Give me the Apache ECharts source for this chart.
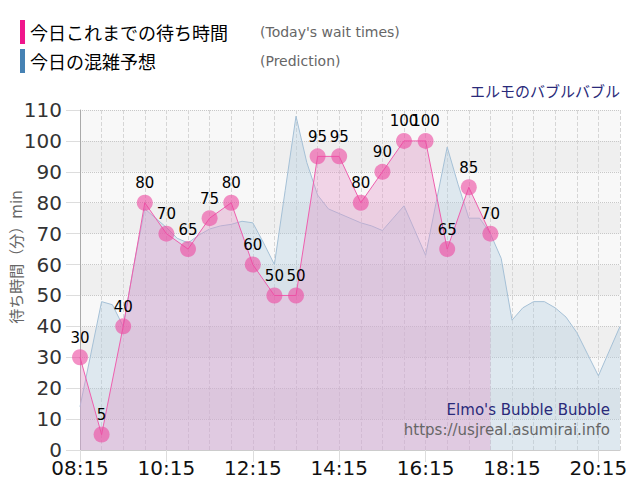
<!DOCTYPE html>
<html><head><meta charset="utf-8">
<script src="https://cdn.jsdelivr.net/npm/echarts@6/dist/echarts.min.js"></script>
<style>html,body{margin:0;padding:0;background:#fff}#c{width:640px;height:500px}</style>
</head><body><div id="c"></div>
<script>
// 15-minute time slots (category axis)
const times = ['08:15','08:30','08:45','09:00','09:15','09:30','09:45','10:00','10:15','10:30','10:45','11:00',
  '11:15','11:30','11:45','12:00','12:15','12:30','12:45','13:00','13:15','13:30','13:45','14:00',
  '14:15','14:30','14:45','15:00','15:15','15:30','15:45','16:00','16:15','16:30','16:45','17:00',
  '17:15','17:30','17:45','18:00','18:15','18:30','18:45','19:00','19:15','19:30','19:45','20:00',
  '20:15','20:30','20:45'];
// today's recorded wait times (every 30 min from 08:15)
const waitTimeSlots = ['08:15','08:45','09:15','09:45','10:15','10:45','11:15','11:45','12:15','12:45',
  '13:15','13:45','14:15','14:45','15:15','15:45','16:15','16:45','17:15','17:45'];
const waitTimes = [30,5,40,80,70,65,75,80,60,50,50,95,95,80,90,100,100,65,85,70];
// predicted wait (every 15 min)
const prediction = [14,31,48,47,40,60,78,75,72,68.5,67,69.5,71.5,72.5,73,74,73.5,67,60,84,108,93,82.5,78,
  76.5,75,73.5,72.5,71,75,79,71,63,80.5,98,86,75,75,70,62,42,46,48,48,46,43,38,31,24,32,40];
const seriesNames = ['今日これまでの待ち時間','今日の混雑予想'];
const seriesNotes = ["(Today's wait times)", '(Prediction)'];
const yAxisName = '待ち時間（分）min';
const yTicks = {min:0, max:110, step:10};
const xLabelEvery = 7;

const waitData = times.map(t => {
  const k = waitTimeSlots.indexOf(t);
  return k >= 0 ? waitTimes[k] : null;
});

const chart = echarts.init(document.getElementById('c'), null, {renderer:'svg'});
chart.setOption({
  animation:false,
  backgroundColor:'#fff',
  title:{text:'エルモのバブルバブル', right:15, top:78,
    textStyle:{fontSize:15, color:'#2a2a7a', fontWeight:'normal', fontFamily:'Noto Sans CJK JP'}},
  legend:{orient:'vertical', left:15, top:15, itemWidth:5, itemHeight:24, itemGap:5, icon:'rect', selectedMode:false,
    data:[{name:seriesNames[0], itemStyle:{color:'#f0168c', opacity:1}},
          {name:seriesNames[1], itemStyle:{color:'#4682b4', opacity:1}}],
    formatter: n => '{a|' + n + '}{b|' + seriesNotes[seriesNames.indexOf(n)] + '}',
    textStyle:{rich:{
      a:{fontSize:18, color:'#000', width:230, fontFamily:'Noto Sans CJK JP'},
      b:{fontSize:14, color:'#666', fontFamily:'DejaVu Sans'}}}},
  grid:{left:80, right:20, top:110, bottom:50, containLabel:false, outerBoundsMode:'none'},
  xAxis:{type:'category', data:times, boundaryGap:false,
    axisLine:{show:true, lineStyle:{color:'#ccc'}},
    axisTick:{show:true, interval:xLabelEvery, length:12, lineStyle:{color:'#ddd'}},
    axisLabel:{interval:xLabelEvery, fontSize:20, color:'#111', margin:8, fontFamily:'DejaVu Sans'},
    splitLine:{show:true, interval:1, lineStyle:{color:'#d6d6d6', type:'dashed'}}},
  yAxis:{type:'value', min:yTicks.min, max:yTicks.max, interval:yTicks.step,
    axisLine:{show:true, lineStyle:{color:'#aaa'}},
    axisTick:{show:true, length:14, lineStyle:{color:'#ddd'}},
    axisLabel:{fontSize:20, color:'#333', margin:18, fontFamily:'DejaVu Sans'},
    splitLine:{show:true, lineStyle:{color:'#c8c8c8', type:'dotted'}},
    splitArea:{show:true, areaStyle:{color:['#f8f8f8','#efefef']}}},
  graphic:[
    {type:'text', x:17, y:257, rotation:Math.PI/2, z:100,
      style:{text:yAxisName, align:'center', verticalAlign:'middle',
        font:'15px "DejaVu Sans", "Noto Sans CJK JP"', fill:'#666'}},
    {type:'text', right:30, top:402, z:100, style:{text:"Elmo's Bubble Bubble", font:'15px "DejaVu Sans"', fill:'#2a2a7a'}},
    {type:'text', right:30, top:422, z:100, style:{text:'https://usjreal.asumirai.info', font:'15px "DejaVu Sans"', fill:'#666'}}
  ],
  series:[
    {name:seriesNames[1], type:'line', data:prediction, symbol:'none', showSymbol:false, z:2,
      lineStyle:{width:1, color:'#a5c0d6'}, itemStyle:{color:'#4682b4'},
      areaStyle:{color:'rgba(176,203,224,0.5)'}},
    {name:seriesNames[0], type:'line', data:waitData, connectNulls:true, showAllSymbol:true,
      symbol:'circle', symbolSize:16, z:3,
      lineStyle:{width:1, color:'#ee5fae'}, itemStyle:{color:'rgba(236,72,160,0.6)'},
      areaStyle:{color:'rgba(228,145,200,0.5)'},
      label:{show:true, position:'top', distance:4, fontSize:15, color:'#000', fontFamily:'DejaVu Sans'}}
  ]
});
</script></body></html>
